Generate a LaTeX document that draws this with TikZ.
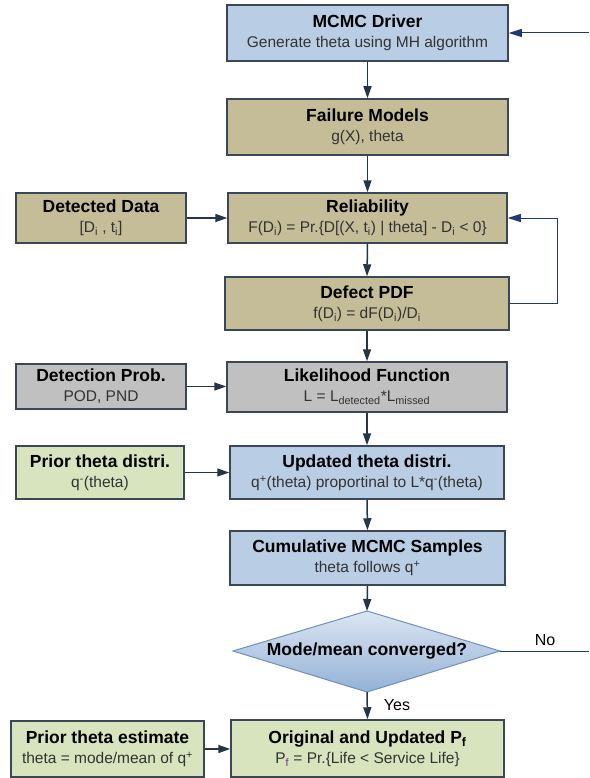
\documentclass[tikz,border=0pt]{standalone}
\usepackage{fontspec}
\setmainfont{Liberation Sans}
\usetikzlibrary{arrows.meta}
\definecolor{bluefill}{HTML}{B9CDE5}
\definecolor{tanfill}{HTML}{C4BD97}
\definecolor{grayfill}{HTML}{C0C0C0}
\definecolor{greenfill}{HTML}{D7E4BD}
\definecolor{edgec}{HTML}{3B4656}
\definecolor{arrc}{HTML}{253548}
\definecolor{navyc}{HTML}{1F3A73}
\definecolor{subc}{HTML}{333333}
\definecolor{diatop}{HTML}{DCE6F2}
\definecolor{diabot}{HTML}{93B1D6}
\definecolor{diaedge}{HTML}{7090BD}
\definecolor{pfc}{HTML}{7030A0}
\newcommand\ttl[1]{{\fontsize{17.5}{20}\selectfont\bfseries\color{black}#1}}
\newcommand\sbs[1]{\textsubscript{#1}}
\newcommand\sps[1]{\textsuperscript{#1}}
\tikzset{
  box/.style={draw=edgec, line width=1.5pt, align=center, inner sep=0pt,
    text=subc, font=\fontsize{15.5}{20}\selectfont},
  flow/.style={draw=arrc, line width=1.5pt, -{Triangle[length=12pt,width=8pt]}},
  loopline/.style={draw=navyc, line width=1pt},
  looparrow/.style={loopline, -{Triangle[length=13pt,width=8pt]}},
  lbl/.style={inner sep=0pt, text=black, font=\fontsize{16}{18}\selectfont}
}
\begin{document}
\begin{tikzpicture}[x=1pt,y=-1pt]
\useasboundingbox[fill=white] (0,0) rectangle (589,778);

% main column
\node[box, fill=bluefill, minimum width=281pt, minimum height=56pt] (mcmc) at (367.5,33)
  {\ttl{MCMC Driver}\\Generate theta using MH algorithm};
\node[box, fill=tanfill, minimum width=281pt, minimum height=56pt] (fail) at (367.5,127)
  {\ttl{Failure Models}\\g(X), theta};
\node[box, fill=tanfill, minimum width=279pt, minimum height=50pt] (rel) at (367.5,218)
  {\ttl{Reliability}\\F(D\sbs{i}) = Pr.\{D[(X, t\sbs{i}) | theta] - D\sbs{i} < 0\}};
\node[box, fill=tanfill, minimum width=284pt, minimum height=53pt] (pdf) at (367,303.5)
  {\ttl{Defect PDF}\\f(D\sbs{i}) = dF(D\sbs{i})/D\sbs{i}};
\node[box, fill=grayfill, minimum width=280pt, minimum height=50pt] (lik) at (367,387)
  {\ttl{Likelihood Function}\\L = L\sbs{detected}*L\sbs{missed}};
\node[box, fill=bluefill, minimum width=274pt, minimum height=53pt] (upd) at (367,472.5)
  {\ttl{Updated theta distri.}\\q\sps{+}(theta) proportinal to L*q\sps{-}(theta)};
\node[box, fill=bluefill, minimum width=275pt, minimum height=54pt] (cum) at (367.5,558)
  {\ttl{Cumulative MCMC Samples}\\theta follows q\sps{+}};

% decision diamond
\shade[top color=diatop, bottom color=diabot, draw=diaedge, line width=1pt]
  (233,651) -- (367,611) -- (500,651) -- (367,692) -- cycle;
\coordinate (dtop) at (367,611);
\coordinate (dbot) at (367,692);
\coordinate (dright) at (500,651);
\node[inner sep=0pt, font=\fontsize{17.5}{20}\selectfont\bfseries] (dia) at (367,651) {Mode/mean converged?};

\node[box, fill=greenfill, minimum width=273pt, minimum height=57pt] (orig) at (367.5,748.5)
  {\ttl{Original and Updated P\sbs{f}}\\P\textsubscript{\color{pfc}f} = Pr.\{Life < Service Life\}};

% side boxes
\node[box, fill=tanfill, minimum width=170pt, minimum height=50pt] (det) at (101,218)
  {\ttl{Detected Data}\\{[}D\sbs{i} , t\sbs{i}{]}};
\node[box, fill=grayfill, minimum width=170pt, minimum height=45pt] (dprob) at (101,386.5)
  {\ttl{Detection Prob.}\\POD, PND};
\node[box, fill=greenfill, minimum width=168pt, minimum height=53pt] (prior) at (100,472.5)
  {\ttl{Prior theta distri.}\\q\sps{-}(theta)};
\node[box, fill=greenfill, minimum width=193pt, minimum height=56pt] (pest) at (107.5,749)
  {\ttl{Prior theta estimate}\\theta = mode/mean of q\sps{+}};

% vertical flow
\draw[flow] (mcmc.south) -- (fail.north);
\draw[flow] (fail.south) -- (rel.north);
\draw[flow] (rel.south) -- (pdf.north);
\draw[flow] (pdf.south) -- (lik.north);
\draw[flow] (lik.south) -- (upd.north);
\draw[flow] (upd.south) -- (cum.north);
\draw[flow] (cum.south) -- (dtop);
\draw[flow] (dbot) -- (orig.north);

% horizontal flow
\draw[flow] (det.east) -- (rel.west);
\draw[flow] (dprob.east) -- (dprob.east -| lik.west);
\draw[flow] (prior.east) -- (upd.west);
\draw[flow] (pest.east) -- (pest.east -| orig.west);

% loops
\coordinate (lp1) at (557,303.5);
\coordinate (lp2) at (557,218);
\draw[looparrow] (pdf.east) -- (lp1) -- (lp2) -- (rel.east);
\coordinate (topin) at (589,33);
\draw[looparrow] (topin) -- (mcmc.east);
\coordinate (noout) at (589,651);
\draw[loopline] (dright) -- (noout);

\node[lbl] (no) at (545,640) {No};
\node[lbl] (yes) at (397,705) {Yes};
\end{tikzpicture}
\end{document}
